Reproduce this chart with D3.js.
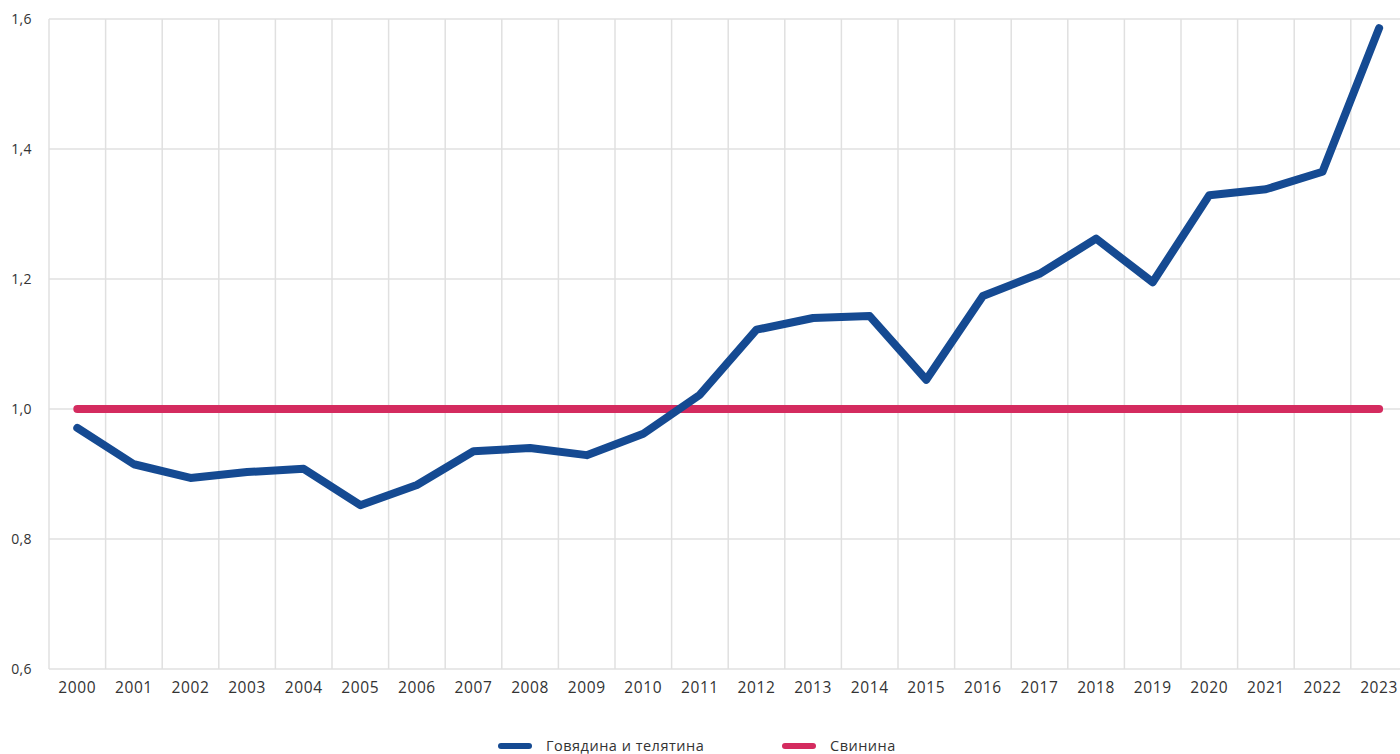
<!DOCTYPE html>
<html>
<head>
<meta charset="utf-8">
<script src="https://cdn.jsdelivr.net/npm/d3@7"></script>
<style>
  body { margin: 0; background: #fff; }
  svg { display: block; font-family: 'Open Sans', sans-serif; }
</style>
</head>
<body>
<svg id="chart"></svg>
<script>
const years = [2000, 2001, 2002, 2003, 2004, 2005, 2006, 2007, 2008, 2009, 2010, 2011,
  2012, 2013, 2014, 2015, 2016, 2017, 2018, 2019, 2020, 2021, 2022, 2023];
const beef = [0.971, 0.915, 0.894, 0.903, 0.908, 0.852, 0.883, 0.935, 0.940, 0.929, 0.962, 1.022,
  1.122, 1.140, 1.143, 1.045, 1.174, 1.208, 1.262, 1.195, 1.329, 1.338, 1.365, 1.586];
const pork = [1, 1, 1, 1, 1, 1, 1, 1, 1, 1, 1, 1, 1, 1, 1, 1, 1, 1, 1, 1, 1, 1, 1, 1];
const yTicks = [0.6, 0.8, 1.0, 1.2, 1.4, 1.6];
const seriesNames = ['Говядина и телятина', 'Свинина'];
const seriesColors = ['#154a92', '#d42b5f'];

const width = 1400, height = 754;
const margin = { left: 49, top: 19 };
const bandStep = 56.6;
const plotW = bandStep * years.length;
const plotH = 650;

const svg = d3.select('#chart').attr('width', width).attr('height', height);
const g = svg.append('g').attr('transform', `translate(${margin.left},${margin.top})`);

const x = d3.scaleBand().domain(years).range([0, plotW]).padding(0);
const y = d3.scaleLinear().domain([0.6, 1.6]).range([plotH, 0]);
const fmt = v => d3.format('.1f')(v).replace('.', ',');

// horizontal grid
g.append('g')
  .selectAll('line')
  .data(yTicks)
  .join('line')
  .attr('x1', 0)
  .attr('x2', plotW)
  .attr('y1', d => y(d))
  .attr('y2', d => y(d))
  .attr('stroke', '#e0e0e0')
  .attr('stroke-width', 1.5);

// vertical grid at band edges
g.append('g')
  .selectAll('line')
  .data(years.concat(['end']))
  .join('line')
  .attr('x1', d => d === 'end' ? plotW : x(d))
  .attr('x2', d => d === 'end' ? plotW : x(d))
  .attr('y1', 0)
  .attr('y2', plotH)
  .attr('stroke', '#e0e0e0')
  .attr('stroke-width', 1.5);

// y labels
g.append('g')
  .selectAll('text')
  .data(yTicks)
  .join('text')
  .attr('x', -17)
  .attr('y', d => y(d))
  .attr('dy', '0.35em')
  .attr('text-anchor', 'end')
  .style('font-size', '14px')
  .style('letter-spacing', '0.4px')
  .attr('fill', '#333')
  .text(fmt);

// x labels
g.append('g')
  .selectAll('text')
  .data(years)
  .join('text')
  .attr('x', d => x(d) + x.bandwidth() / 2)
  .attr('y', plotH + 24)
  .attr('text-anchor', 'middle')
  .style('font-size', '15.5px')
  .style('letter-spacing', '0.6px')
  .attr('fill', '#333')
  .text(d => d);

const line = d3.line()
  .x((d, i) => x(years[i]) + x.bandwidth() / 2)
  .y(d => y(d));

[pork, beef].forEach((series, k) => {
  const color = k === 0 ? seriesColors[1] : seriesColors[0];
  g.append('path')
    .datum(series)
    .attr('d', line)
    .attr('fill', 'none')
    .attr('stroke', color)
    .attr('stroke-width', 8)
    .attr('stroke-linecap', 'round')
    .attr('stroke-linejoin', 'round');
});

// legend
const legendItems = [
  { name: seriesNames[0], color: seriesColors[0], x: 498 },
  { name: seriesNames[1], color: seriesColors[1], x: 782 }
];
const legend = svg.append('g').attr('transform', 'translate(0,746)');
legendItems.forEach(item => {
  legend.append('line')
    .attr('x1', item.x + 3)
    .attr('x2', item.x + 31)
    .attr('y1', 0)
    .attr('y2', 0)
    .attr('stroke', item.color)
    .attr('stroke-width', 6)
    .attr('stroke-linecap', 'round');
  legend.append('text')
    .attr('x', item.x + 48)
    .attr('y', 0)
    .attr('dy', '0.35em')
    .style('font-size', '14.5px')
    .style('letter-spacing', '0.5px')
    .attr('fill', '#333')
    .text(item.name);
});
</script>
</body>
</html>
